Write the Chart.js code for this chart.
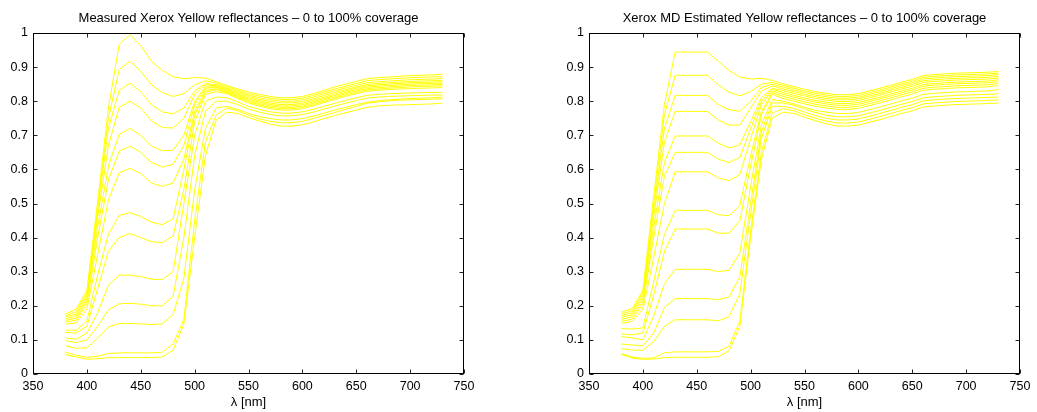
<!DOCTYPE html>
<html>
<head>
<meta charset="utf-8">
<title>Xerox Yellow reflectances</title>
<script src="https://cdn.jsdelivr.net/npm/chart.js@4.4.1/dist/chart.umd.min.js"></script>
<style>
  html, body { margin: 0; padding: 0; background: #fff; }
  #wrap { position: relative; width: 1037px; height: 412px; }
  canvas { position: absolute; top: 0; }
  #measured { left: 0; }
  #estimated { left: 518px; }
</style>
</head>
<body>
<div id="wrap">
  <canvas id="measured" width="518" height="412"></canvas>
  <canvas id="estimated" width="519" height="412"></canvas>
</div>
<script>
// sample wavelengths (nm)
const wavelengths = [380, 390, 400, 410, 420, 430, 440, 450, 460, 470, 480, 490, 500, 510, 520, 530, 540, 550,
  560, 570, 580, 590, 600, 610, 620, 630, 640, 650, 660, 670, 680, 690, 700, 710, 720, 730];

const xTickValues = [350, 400, 450, 500, 550, 600, 650, 700, 750];
const xTickLabels = ['350', '400', '450', '500', '550', '600', '650', '700', '750'];
const yTickValues = [0, 0.1, 0.2, 0.3, 0.4, 0.5, 0.6, 0.7, 0.8, 0.9, 1];
const yTickLabels = ['0', '0.1', '0.2', '0.3', '0.4', '0.5', '0.6', '0.7', '0.8', '0.9', '1'];

// measured patches, paper (0%) first, full coverage last
const measuredCurves = [
  [0.176,0.190,0.245,0.505,0.780,0.967,0.995,0.963,0.917,0.890,0.872,0.866,0.869,0.868,0.857,0.846,0.836,0.827,0.820,0.814,0.810,0.810,0.814,0.822,0.832,0.842,0.850,0.858,0.866,0.869,0.871,0.873,0.875,0.876,0.877,0.879],
  [0.171,0.183,0.238,0.490,0.750,0.893,0.917,0.888,0.848,0.825,0.814,0.822,0.848,0.860,0.853,0.843,0.832,0.822,0.815,0.809,0.805,0.805,0.809,0.817,0.827,0.836,0.844,0.852,0.860,0.863,0.865,0.867,0.869,0.870,0.871,0.872],
  [0.167,0.176,0.230,0.480,0.720,0.832,0.853,0.828,0.790,0.769,0.763,0.780,0.830,0.852,0.848,0.839,0.828,0.818,0.810,0.804,0.800,0.800,0.804,0.812,0.822,0.831,0.839,0.847,0.854,0.857,0.859,0.861,0.863,0.864,0.865,0.866],
  [0.162,0.170,0.222,0.460,0.670,0.782,0.800,0.780,0.742,0.723,0.721,0.750,0.820,0.848,0.845,0.836,0.824,0.814,0.805,0.799,0.795,0.795,0.799,0.807,0.817,0.826,0.834,0.842,0.849,0.852,0.854,0.856,0.858,0.859,0.860,0.861],
  [0.157,0.164,0.214,0.430,0.610,0.703,0.720,0.700,0.668,0.655,0.656,0.700,0.800,0.842,0.842,0.833,0.820,0.810,0.801,0.794,0.790,0.790,0.794,0.802,0.812,0.821,0.830,0.838,0.845,0.848,0.850,0.852,0.854,0.855,0.856,0.857],
  [0.152,0.158,0.205,0.400,0.570,0.653,0.668,0.650,0.620,0.607,0.615,0.670,0.790,0.838,0.840,0.830,0.817,0.806,0.797,0.790,0.786,0.786,0.790,0.798,0.808,0.817,0.826,0.834,0.841,0.844,0.846,0.848,0.850,0.851,0.852,0.853],
  [0.146,0.150,0.190,0.350,0.510,0.590,0.603,0.588,0.560,0.550,0.560,0.630,0.770,0.832,0.836,0.827,0.814,0.802,0.793,0.786,0.782,0.782,0.786,0.794,0.804,0.813,0.822,0.830,0.837,0.840,0.842,0.844,0.846,0.847,0.848,0.849],
  [0.129,0.128,0.155,0.290,0.410,0.465,0.473,0.462,0.445,0.438,0.455,0.600,0.760,0.826,0.834,0.825,0.811,0.799,0.789,0.782,0.778,0.778,0.782,0.790,0.800,0.809,0.818,0.826,0.833,0.836,0.838,0.840,0.842,0.843,0.844,0.845],
  [0.122,0.120,0.140,0.250,0.360,0.400,0.412,0.400,0.388,0.385,0.405,0.540,0.740,0.820,0.828,0.822,0.808,0.795,0.785,0.778,0.774,0.774,0.778,0.786,0.796,0.805,0.814,0.822,0.829,0.832,0.834,0.836,0.837,0.838,0.839,0.840],
  [0.106,0.102,0.120,0.180,0.260,0.290,0.290,0.286,0.278,0.277,0.300,0.500,0.700,0.800,0.812,0.810,0.798,0.785,0.776,0.769,0.765,0.765,0.769,0.776,0.785,0.794,0.802,0.810,0.817,0.820,0.822,0.823,0.824,0.825,0.826,0.826],
  [0.098,0.092,0.100,0.140,0.188,0.206,0.207,0.205,0.200,0.200,0.228,0.400,0.640,0.770,0.800,0.800,0.790,0.777,0.768,0.761,0.757,0.757,0.761,0.768,0.777,0.786,0.794,0.802,0.809,0.812,0.814,0.815,0.816,0.817,0.818,0.818],
  [0.083,0.075,0.077,0.105,0.138,0.148,0.148,0.147,0.145,0.147,0.174,0.280,0.540,0.720,0.780,0.785,0.776,0.764,0.755,0.749,0.745,0.745,0.749,0.756,0.765,0.774,0.782,0.790,0.797,0.801,0.804,0.806,0.808,0.809,0.810,0.812],
  [0.064,0.055,0.049,0.052,0.060,0.062,0.062,0.062,0.062,0.064,0.088,0.160,0.450,0.680,0.760,0.780,0.772,0.759,0.748,0.741,0.737,0.737,0.741,0.749,0.758,0.767,0.776,0.785,0.794,0.798,0.801,0.803,0.804,0.805,0.806,0.807],
  [0.057,0.050,0.043,0.045,0.048,0.048,0.048,0.048,0.048,0.050,0.070,0.146,0.400,0.640,0.745,0.768,0.764,0.752,0.742,0.733,0.727,0.727,0.731,0.739,0.749,0.758,0.766,0.774,0.782,0.786,0.788,0.789,0.790,0.791,0.792,0.794]
];

// model estimates for the same patches
const estimatedCurves = [
  [0.181,0.192,0.245,0.520,0.790,0.944,0.944,0.944,0.944,0.917,0.890,0.871,0.865,0.867,0.861,0.851,0.843,0.835,0.828,0.823,0.819,0.819,0.822,0.830,0.838,0.847,0.856,0.864,0.875,0.878,0.880,0.882,0.883,0.884,0.885,0.887],
  [0.176,0.186,0.238,0.500,0.760,0.876,0.876,0.876,0.876,0.848,0.826,0.816,0.828,0.850,0.855,0.846,0.838,0.830,0.823,0.818,0.814,0.814,0.817,0.825,0.833,0.842,0.851,0.859,0.870,0.873,0.875,0.877,0.878,0.879,0.880,0.882],
  [0.171,0.180,0.230,0.480,0.720,0.817,0.817,0.817,0.817,0.790,0.775,0.770,0.800,0.840,0.850,0.841,0.833,0.825,0.818,0.813,0.809,0.809,0.812,0.820,0.828,0.837,0.846,0.854,0.865,0.868,0.870,0.872,0.873,0.874,0.875,0.878],
  [0.166,0.174,0.222,0.460,0.680,0.770,0.770,0.770,0.770,0.745,0.730,0.730,0.780,0.830,0.845,0.836,0.828,0.820,0.813,0.808,0.804,0.804,0.807,0.815,0.823,0.832,0.841,0.849,0.860,0.863,0.865,0.867,0.868,0.869,0.870,0.873],
  [0.160,0.168,0.213,0.430,0.620,0.698,0.698,0.698,0.698,0.677,0.663,0.672,0.740,0.810,0.838,0.831,0.823,0.815,0.808,0.803,0.799,0.799,0.802,0.810,0.818,0.827,0.836,0.844,0.855,0.858,0.860,0.862,0.863,0.864,0.865,0.868],
  [0.154,0.161,0.204,0.400,0.580,0.650,0.650,0.650,0.650,0.630,0.620,0.635,0.720,0.800,0.835,0.825,0.817,0.809,0.802,0.797,0.793,0.793,0.796,0.804,0.812,0.821,0.830,0.838,0.849,0.852,0.854,0.856,0.857,0.858,0.859,0.863],
  [0.148,0.154,0.190,0.340,0.500,0.593,0.593,0.593,0.593,0.575,0.567,0.585,0.690,0.790,0.830,0.820,0.812,0.804,0.797,0.792,0.788,0.788,0.791,0.799,0.807,0.816,0.825,0.833,0.844,0.847,0.849,0.851,0.852,0.853,0.854,0.858],
  [0.133,0.132,0.135,0.270,0.410,0.480,0.480,0.480,0.480,0.467,0.464,0.495,0.640,0.770,0.825,0.814,0.806,0.798,0.791,0.786,0.782,0.782,0.785,0.793,0.801,0.810,0.819,0.827,0.838,0.841,0.843,0.845,0.846,0.847,0.848,0.852],
  [0.117,0.115,0.120,0.230,0.360,0.425,0.425,0.425,0.425,0.413,0.413,0.450,0.610,0.760,0.820,0.808,0.800,0.792,0.785,0.780,0.776,0.776,0.779,0.787,0.795,0.804,0.813,0.821,0.832,0.835,0.837,0.839,0.840,0.841,0.842,0.846],
  [0.110,0.106,0.100,0.170,0.265,0.307,0.307,0.307,0.307,0.300,0.304,0.355,0.550,0.730,0.805,0.800,0.792,0.782,0.773,0.768,0.764,0.764,0.767,0.775,0.783,0.792,0.801,0.809,0.820,0.823,0.825,0.827,0.828,0.829,0.830,0.834],
  [0.088,0.085,0.083,0.120,0.195,0.221,0.221,0.221,0.221,0.218,0.226,0.285,0.500,0.710,0.795,0.795,0.788,0.777,0.767,0.759,0.754,0.754,0.757,0.765,0.773,0.782,0.791,0.799,0.810,0.813,0.815,0.817,0.818,0.819,0.820,0.822],
  [0.075,0.070,0.070,0.095,0.140,0.159,0.159,0.159,0.159,0.156,0.168,0.235,0.470,0.690,0.785,0.785,0.779,0.768,0.758,0.750,0.745,0.745,0.748,0.756,0.764,0.773,0.782,0.790,0.801,0.804,0.806,0.808,0.809,0.810,0.811,0.812],
  [0.060,0.050,0.046,0.047,0.062,0.065,0.065,0.065,0.065,0.066,0.082,0.155,0.420,0.650,0.765,0.778,0.772,0.760,0.750,0.742,0.736,0.736,0.739,0.747,0.755,0.764,0.773,0.781,0.792,0.795,0.797,0.799,0.800,0.801,0.802,0.804],
  [0.057,0.047,0.043,0.044,0.048,0.049,0.049,0.049,0.049,0.051,0.068,0.140,0.400,0.630,0.750,0.768,0.764,0.753,0.743,0.734,0.727,0.727,0.730,0.738,0.746,0.755,0.764,0.772,0.783,0.786,0.788,0.790,0.791,0.792,0.793,0.795]
];

const FONT = '"Liberation Sans", Arial, Helvetica, sans-serif';
const LINE_COLOR = '#ffff00';

// box frame, inward ticks on all four sides, title and x label
const matlabAxes = {
  id: 'matlabAxes',
  afterDraw(chart, args, opts) {
    const { ctx, chartArea: a, scales: { x, y } } = chart;
    const l = Math.round(a.left) + 0.5, r = Math.round(a.right) - 0.5;
    const t = Math.round(a.top) + 0.5, b = Math.round(a.bottom) - 0.5;
    ctx.save();
    ctx.strokeStyle = '#222';
    ctx.lineWidth = 1;
    ctx.beginPath();
    xTickValues.forEach(v => {
      const px = Math.round(x.getPixelForValue(v)) + 0.5;
      ctx.moveTo(px, b); ctx.lineTo(px, b - 4);
      ctx.moveTo(px, t); ctx.lineTo(px, t + 4);
    });
    yTickValues.forEach(v => {
      const py = Math.round(y.getPixelForValue(v)) + 0.5;
      ctx.moveTo(l, py); ctx.lineTo(l + 4, py);
      ctx.moveTo(r, py); ctx.lineTo(r - 4, py);
    });
    ctx.stroke();
    ctx.strokeStyle = '#000';
    ctx.strokeRect(l, t, r - l, b - t);

    ctx.fillStyle = '#000';
    ctx.font = '13px ' + FONT;
    ctx.textAlign = 'center';
    ctx.textBaseline = 'middle';
    const cx = (a.left + a.right) / 2;
    ctx.fillText(opts.title, cx, 18);
    ctx.fillText('λ [nm]', cx, 402);
    ctx.restore();
  }
};

function makeChart(id, title, curves, padLeft, padRight) {
  const datasets = curves.map((c, i) => ({
    label: 'patch ' + (i + 1),
    data: wavelengths.map((w, j) => ({ x: w, y: c[j] })),
    borderColor: LINE_COLOR,
    borderWidth: 1,
    pointRadius: 0,
    tension: 0,
    fill: false
  }));

  return new Chart(document.getElementById(id), {
    type: 'line',
    data: { datasets },
    plugins: [matlabAxes],
    options: {
      responsive: false,
      animation: false,
      layout: { padding: { left: padLeft, right: padRight, top: 33, bottom: 0 } },
      plugins: {
        legend: { display: false },
        tooltip: { enabled: false },
        matlabAxes: { title }
      },
      scales: {
        x: {
          type: 'linear', min: 350, max: 750,
          afterFit: s => { s.height = 38; },
          afterBuildTicks: s => { s.ticks = xTickValues.map(v => ({ value: v })); },
          grid: { display: false, drawTicks: false },
          border: { display: false },
          ticks: {
            padding: 5, color: '#000', autoSkip: false, maxRotation: 0,
            font: { family: FONT, size: 12.5 },
            callback: (v, i) => xTickLabels[i]
          }
        },
        y: {
          type: 'linear', min: 0, max: 1,
          afterFit: s => { s.width = 33; },
          afterBuildTicks: s => { s.ticks = yTickValues.map(v => ({ value: v })); },
          grid: { display: false, drawTicks: false },
          border: { display: false },
          ticks: {
            padding: 5, color: '#000', autoSkip: false,
            font: { family: FONT, size: 12.5 },
            callback: (v, i) => yTickLabels[i]
          }
        }
      }
    }
  });
}

makeChart('measured', 'Measured Xerox Yellow reflectances \u2013 0 to 100% coverage', measuredCurves, 0, 54);
makeChart('estimated', 'Xerox MD Estimated Yellow reflectances \u2013 0 to 100% coverage', estimatedCurves, 38, 17);
</script>
</body>
</html>
